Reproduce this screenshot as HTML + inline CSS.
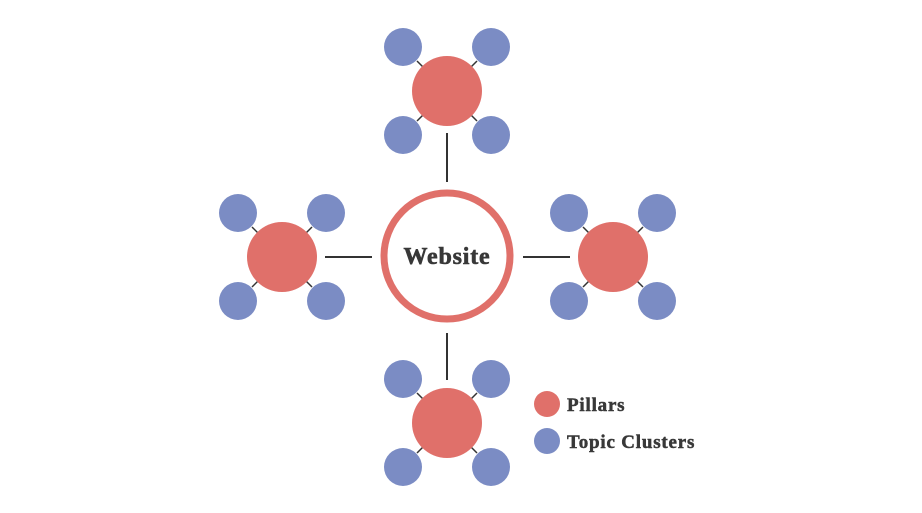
<!DOCTYPE html>
<html><head><style>html,body{margin:0;padding:0;background:#fff;width:922px;height:513px;overflow:hidden}</style></head>
<body>
<svg width="922" height="513" viewBox="0 0 922 513" xmlns="http://www.w3.org/2000/svg" xmlns:xlink="http://www.w3.org/1999/xlink">
<defs><g id="k">
<g stroke="#333" stroke-width="1.5">
<line x1="-30" y1="-30" x2="-23" y2="-23"/><line x1="30" y1="-30" x2="23" y2="-23"/>
<line x1="-30" y1="30" x2="-23" y2="23"/><line x1="30" y1="30" x2="23" y2="23"/>
</g>
<circle cx="-44" cy="-44" r="19" fill="#7b8cc4"/><circle cx="44" cy="-44" r="19" fill="#7b8cc4"/>
<circle cx="-44" cy="44" r="19" fill="#7b8cc4"/><circle cx="44" cy="44" r="19" fill="#7b8cc4"/>
<circle cx="0" cy="0" r="35" fill="#e0706a"/>
</g></defs>
<g stroke="#333" stroke-width="2">
<line x1="447" y1="133" x2="447" y2="182"/>
<line x1="447" y1="333" x2="447" y2="380"/>
<line x1="325" y1="257" x2="372" y2="257"/>
<line x1="523" y1="257" x2="570" y2="257"/>
</g>
<circle cx="447" cy="256" r="63" fill="#fff" stroke="#e0706a" stroke-width="7"/>
<text x="447" y="264" text-anchor="middle" font-family="Liberation Serif, serif" font-weight="bold" font-size="24" letter-spacing="0.8" fill="#383838" stroke="#383838" stroke-width="0.6">Website</text>
<use xlink:href="#k" x="447" y="91"/>
<use xlink:href="#k" x="447" y="423"/>
<use xlink:href="#k" x="282" y="257"/>
<use xlink:href="#k" x="613" y="257"/>
<circle cx="547" cy="404" r="13" fill="#e0706a"/>
<circle cx="547" cy="441" r="13" fill="#7b8cc4"/>
<text x="567" y="411" font-family="Liberation Serif, serif" font-weight="bold" font-size="19" letter-spacing="0.8" fill="#383838" stroke="#383838" stroke-width="0.5">Pillars</text>
<text x="567" y="448" font-family="Liberation Serif, serif" font-weight="bold" font-size="19" letter-spacing="0.8" fill="#383838" stroke="#383838" stroke-width="0.5">Topic Clusters</text>
</svg>
</body></html>
